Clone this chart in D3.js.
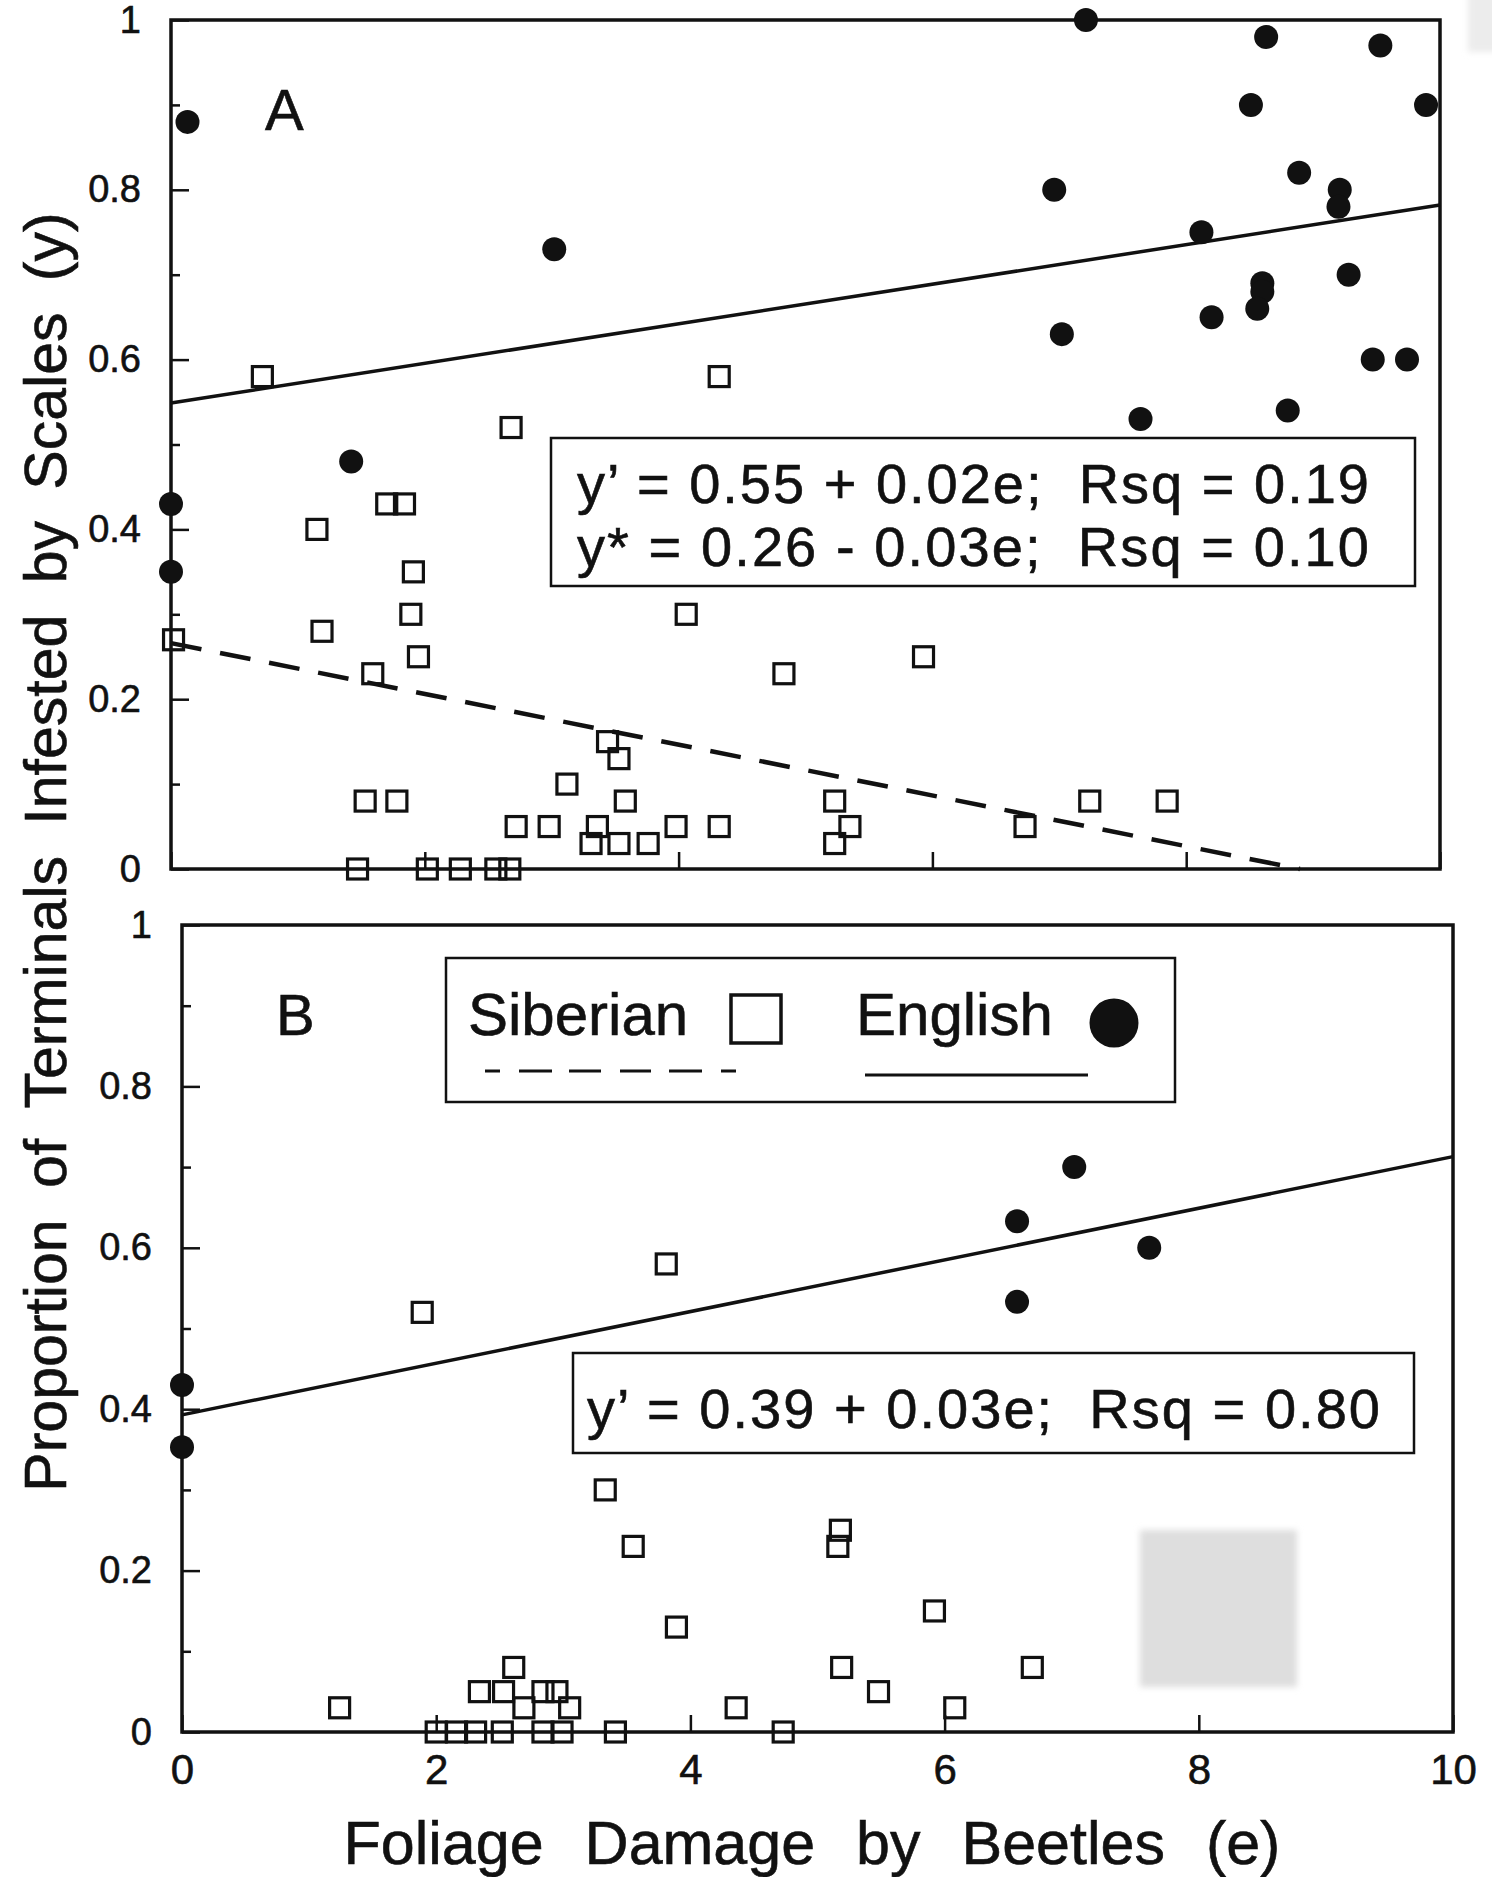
<!DOCTYPE html>
<html>
<head>
<meta charset="utf-8">
<script src="https://cdn.jsdelivr.net/npm/d3@7"></script>
<style>
    body { margin: 0; background: #fff; }
    svg text { font-family: "Liberation Sans", Arial, sans-serif; fill: #111; stroke: #111; stroke-width: 0.6; white-space: pre; }
</style>
</head>
<body>
<svg id="chart" width="1492" height="1877"></svg>
<script>

// Panel A - Siberian (open squares)
var aSiberianE = [0.72, 4.32, 2.68, 1.15, 1.70, 1.84, 1.91, 1.19, 1.89, 1.95, 0.02, 1.59, 4.06, 4.83, 5.93,
    3.44, 3.53, 3.12, 1.53, 1.78, 3.58, 5.23, 7.24, 7.85, 2.72, 2.98, 3.36, 3.98, 4.32, 5.35, 6.73,
    3.31, 3.53, 3.76, 5.23, 1.47, 2.02, 2.28, 2.56, 2.67];
var aSiberianY = [0.58, 0.58, 0.52, 0.40, 0.43, 0.43, 0.35, 0.28, 0.30, 0.25, 0.27, 0.23, 0.30, 0.23, 0.25,
    0.15, 0.13, 0.10, 0.08, 0.08, 0.08, 0.08, 0.08, 0.08, 0.05, 0.05, 0.05, 0.05, 0.05, 0.05, 0.05,
    0.03, 0.03, 0.03, 0.03, 0, 0, 0, 0, 0];

// Panel A - English (filled circles)
var aEnglishE = [0.13, 7.21, 8.63, 9.53, 8.51, 9.89, 6.96, 8.89, 9.21, 9.20, 8.12, 3.02, 8.60, 8.60, 8.56,
    9.28, 8.20, 7.02, 9.47, 9.74, 7.64, 8.80, 1.42, 0, 0];
var aEnglishY = [0.88, 1.00, 0.98, 0.97, 0.90, 0.90, 0.80, 0.82, 0.80, 0.78, 0.75, 0.73, 0.69, 0.68, 0.66,
    0.70, 0.65, 0.63, 0.60, 0.60, 0.53, 0.54, 0.48, 0.43, 0.35];

// Panel B - Siberian
var bSiberianE = [1.89, 3.81, 3.33, 3.55, 5.18, 5.16, 5.92, 3.89, 5.19, 6.69, 5.48, 1.24, 4.36, 6.08, 2.61,
    2.34, 2.53, 2.84, 2.95, 2.69, 3.05, 2.00, 2.16, 2.31, 2.52, 2.84, 2.99, 3.41, 4.73];
var bSiberianY = [0.52, 0.58, 0.30, 0.23, 0.25, 0.23, 0.15, 0.13, 0.08, 0.08, 0.05, 0.03, 0.03, 0.03, 0.08,
    0.05, 0.05, 0.05, 0.05, 0.03, 0.03, 0, 0, 0, 0, 0, 0, 0, 0];

// Panel B - English
var bEnglishE = [7.02, 6.57, 7.61, 6.57, 0, 0];
var bEnglishY = [0.70, 0.633, 0.60, 0.533, 0.43, 0.353];

// fitted lines [intercept, slope] as drawn
var aEnglishFit = [0.549, 0.0233];
var aSiberianFit = [0.266, -0.0299];
var bEnglishFit = [0.393, 0.032];

var eqA = ['y\u2019 = 0.55 + 0.02e;  Rsq = 0.19', 'y* = 0.26 - 0.03e;  Rsq = 0.10'];
var eqB = ['y\u2019 = 0.39 + 0.03e;  Rsq = 0.80'];

var xTicks = [0, 2, 4, 6, 8, 10];
var yTicks = [0, 0.2, 0.4, 0.6, 0.8, 1];
var yMinorTicks = [0.1, 0.3, 0.5, 0.7, 0.9];

var svg = d3.select('#chart');
var fontFamily = '"Liberation Sans", Arial, sans-serif';

// scan artefacts (grey smudges)
var defs = svg.append('defs');
defs.append('filter').attr('id', 'smudge')
    .attr('x', '-20%').attr('y', '-20%').attr('width', '140%').attr('height', '140%')
    .append('feGaussianBlur').attr('stdDeviation', 3);

svg.append('rect').attr('x', 1140).attr('y', 1530).attr('width', 157).attr('height', 157)
    .attr('fill', '#dedede').attr('filter', 'url(#smudge)');
svg.append('rect').attr('x', 1468).attr('y', -10).attr('width', 40).attr('height', 62)
    .attr('fill', '#ececec').attr('filter', 'url(#smudge)');

var styleAxis = function (sel, fontSize) {
    sel.attr('font-family', fontFamily).attr('font-size', fontSize);
    sel.select('.domain').remove();
    sel.selectAll('.tick line').attr('stroke', '#111').attr('stroke-width', 2.5);
    sel.selectAll('.tick text').attr('fill', '#111');
};

var drawPanel = function (p) {

    var x = d3.scaleLinear().domain([0, 10]).range([p.left, p.right]);
    var y = d3.scaleLinear().domain([0, 1]).range([p.bottom, p.top]);

    var g = svg.append('g');

    // y axis, major ticks with labels, then minor ticks
    g.append('g')
        .attr('transform', 'translate(' + p.left + ',0)')
        .call(d3.axisLeft(y).tickValues(yTicks).tickSize(-18).tickSizeOuter(0).tickPadding(30)
            .tickFormat(d3.format('~g')))
        .call(styleAxis, 38);

    g.append('g')
        .attr('transform', 'translate(' + p.left + ',0)')
        .call(d3.axisLeft(y).tickValues(yMinorTicks).tickSize(-9).tickSizeOuter(0).tickFormat(''))
        .call(styleAxis, 38);

    // x axis
    var xAxis = d3.axisBottom(x).tickValues(xTicks).tickSize(-17).tickSizeOuter(0).tickPadding(22);
    if (!p.xLabels) {
        xAxis.tickFormat('');
    }
    g.append('g')
        .attr('transform', 'translate(0,' + p.bottom + ')')
        .call(xAxis)
        .call(styleAxis, 42);

    // frame
    g.append('rect')
        .attr('x', p.left).attr('y', p.top)
        .attr('width', p.right - p.left).attr('height', p.bottom - p.top)
        .attr('fill', 'none').attr('stroke', '#111').attr('stroke-width', 3.5);

    // regression lines
    p.fits.forEach(function (f) {
        var e1 = f.fit[1] < 0 ? -f.fit[0] / f.fit[1] : 10;
        g.append('line')
            .attr('x1', x(0)).attr('y1', y(f.fit[0]))
            .attr('x2', x(e1)).attr('y2', y(f.fit[0] + f.fit[1] * e1))
            .attr('stroke', '#111')
            .attr('stroke-width', f.dashed ? 4.5 : 3.5)
            .attr('stroke-dasharray', f.dashed ? '31,19' : null);
    });

    // Siberian squares
    var s = 20;
    g.append('g').selectAll('rect')
        .data(d3.zip(p.sibE, p.sibY))
        .join('rect')
        .attr('x', function (d) { return x(d[0]) - s / 2; })
        .attr('y', function (d) { return y(d[1]) - s / 2; })
        .attr('width', s).attr('height', s)
        .attr('fill', 'none').attr('stroke', '#111').attr('stroke-width', 3.2);

    // English circles
    g.append('g').selectAll('circle')
        .data(d3.zip(p.engE, p.engY))
        .join('circle')
        .attr('cx', function (d) { return x(d[0]); })
        .attr('cy', function (d) { return y(d[1]); })
        .attr('r', 12)
        .attr('fill', '#111');

    // panel letter
    g.append('text')
        .attr('x', p.left + 94).attr('y', p.letterY)
        .attr('font-size', 58)
        .text(p.letter);

    // equation box
    var box = p.eqBox;
    g.append('rect')
        .attr('x', box.x).attr('y', box.y).attr('width', box.w).attr('height', box.h)
        .attr('fill', 'none').attr('stroke', '#111').attr('stroke-width', 2.5);

    g.selectAll('text.eq')
        .data(p.eq)
        .join('text')
        .attr('class', 'eq')
        .attr('x', box.x + box.pad)
        .attr('y', function (d, i) { return box.baseline + i * 63; })
        .attr('font-size', 56)
        .attr('textLength', box.textW)
        .attr('lengthAdjust', 'spacing')
        .text(function (d) { return d; });
};

drawPanel({
    left: 171, right: 1440, top: 20, bottom: 869,
    xLabels: false,
    sibE: aSiberianE, sibY: aSiberianY, engE: aEnglishE, engY: aEnglishY,
    fits: [{ fit: aEnglishFit, dashed: false }, { fit: aSiberianFit, dashed: true }],
    letter: 'A', letterY: 130,
    eq: eqA,
    eqBox: { x: 551, y: 438, w: 864, h: 148, pad: 26, baseline: 503, textW: 792 }
});

drawPanel({
    left: 182, right: 1453, top: 925, bottom: 1732,
    xLabels: true,
    sibE: bSiberianE, sibY: bSiberianY, engE: bEnglishE, engY: bEnglishY,
    fits: [{ fit: bEnglishFit, dashed: false }],
    letter: 'B', letterY: 1035,
    eq: eqB,
    eqBox: { x: 573, y: 1353, w: 841, h: 100, pad: 14, baseline: 1428, textW: 793 }
});

// legend in panel B
var legend = svg.append('g');
legend.append('rect')
    .attr('x', 446).attr('y', 958).attr('width', 729).attr('height', 144)
    .attr('fill', 'none').attr('stroke', '#111').attr('stroke-width', 2.5);
legend.append('text').attr('x', 468).attr('y', 1035).attr('font-size', 60).text('Siberian');
legend.append('rect').attr('x', 731).attr('y', 995).attr('width', 50).attr('height', 48)
    .attr('fill', 'none').attr('stroke', '#111').attr('stroke-width', 3.5);
legend.append('line').attr('x1', 485).attr('x2', 737).attr('y1', 1071).attr('y2', 1071)
    .attr('stroke', '#111').attr('stroke-width', 3)
    .attr('stroke-dasharray', '15,19,33,17,32,19,31,18,33,19,15,60');
legend.append('text').attr('x', 856).attr('y', 1035).attr('font-size', 60).text('English');
legend.append('circle').attr('cx', 1114).attr('cy', 1023).attr('r', 24.5).attr('fill', '#111');
legend.append('line').attr('x1', 865).attr('x2', 1088).attr('y1', 1075).attr('y2', 1075)
    .attr('stroke', '#111').attr('stroke-width', 3);

// axis titles
svg.append('text')
    .attr('x', 812).attr('y', 1864)
    .attr('text-anchor', 'middle')
    .attr('font-size', 61)
    .attr('word-spacing', 24)
    .text('Foliage Damage by Beetles (e)');

svg.append('text')
    .attr('transform', 'translate(66,852) rotate(-90)')
    .attr('text-anchor', 'middle')
    .attr('font-size', 59)
    .attr('word-spacing', 15)
    .text('Proportion of Terminals Infested by Scales (y)');

</script>
</body>
</html>
